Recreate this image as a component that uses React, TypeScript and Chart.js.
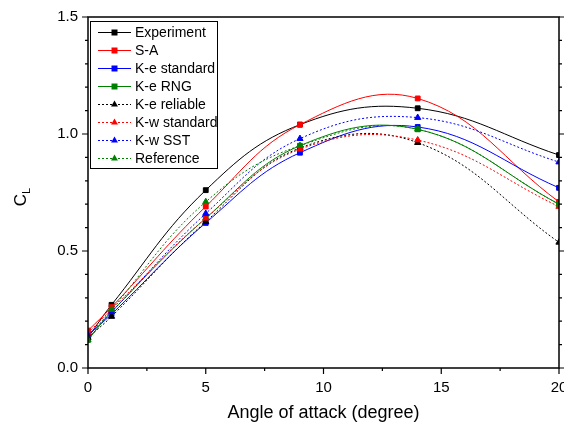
import React, { useEffect, useRef } from 'react';
import { Chart, registerables } from 'chart.js';

Chart.register(...registerables);

// ---------------- data ----------------
const angles = [0, 1, 5, 9, 14, 20];

const experiment = [0.13, 0.27, 0.76, 1.04, 1.11, 0.91];
const spalartAllmaras = [0.16, 0.26, 0.69, 1.04, 1.152, 0.71];
const keStandard = [0.14, 0.23, 0.62, 0.92, 1.03, 0.77];
const keRNG = [0.12, 0.24, 0.64, 0.95, 1.02, 0.70];
const keReliable = [0.13, 0.22, 0.625, 0.94, 0.963, 0.537];
const kwStandard = [0.15, 0.25, 0.64, 0.935, 0.974, 0.69];
const kwSST = [0.14, 0.24, 0.66, 0.98, 1.07, 0.88];
const reference = [0.12, 0.25, 0.71, 0.95, 1.02, 0.70];

const seriesLabels = [
  'Experiment',
  'S-A',
  'K-e standard',
  'K-e RNG',
  'K-e reliable',
  'K-w standard',
  'K-w SST',
  'Reference',
];
const seriesValues = [
  experiment,
  spalartAllmaras,
  keStandard,
  keRNG,
  keReliable,
  kwStandard,
  kwSST,
  reference,
];
const seriesColors = ['#000000', '#ff0000', '#0000ff', '#008000', '#000000', '#ff0000', '#0000ff', '#008000'];
const seriesDotted = [false, false, false, false, true, true, true, true];

const xMajorTicks = [0, 5, 10, 15, 20];
const xTickLabels = ['0', '5', '10', '15', '20'];
const xMinorTicks = [2.5, 7.5, 12.5, 17.5];
const yMajorTicks = [0, 0.5, 1.0, 1.5];
const yTickLabels = ['0.0', '0.5', '1.0', '1.5'];
const yMinorTicks = [0.1, 0.2, 0.3, 0.4, 0.6, 0.7, 0.8, 0.9, 1.1, 1.2, 1.3, 1.4];

const xTitle = 'Angle of attack (degree)';
const yTitleMain = 'C';
const yTitleSub = 'L';

const FONT = '"Liberation Sans", Arial, Helvetica, sans-serif';

function drawMarker(ctx: CanvasRenderingContext2D, x: number, y: number, tri: boolean, color: string) {
  ctx.save();
  ctx.fillStyle = color;
  ctx.setLineDash([]);
  ctx.beginPath();
  if (tri) {
    const r = 4;
    ctx.moveTo(x, y - r);
    ctx.lineTo(x + r * 0.866, y + r * 0.5);
    ctx.lineTo(x - r * 0.866, y + r * 0.5);
    ctx.closePath();
  } else {
    ctx.rect(x - 3, y - 3, 6, 6);
  }
  ctx.fill();
  ctx.restore();
}

const decorPlugin = {
  id: 'decor',
  afterDraw(chart: any) {
    const { ctx, chartArea: a, scales } = chart;
    const xs = scales.x;
    const ys = scales.y;
    ctx.save();
    // frame
    ctx.strokeStyle = '#000';
    ctx.lineWidth = 1.5;
    ctx.setLineDash([]);
    ctx.strokeRect(a.left, a.top, a.right - a.left, a.bottom - a.top);

    // ticks
    ctx.lineWidth = 1.2;
    ctx.beginPath();
    xMajorTicks.forEach((v) => {
      const px = xs.getPixelForValue(v);
      ctx.moveTo(px, a.bottom);
      ctx.lineTo(px, a.bottom + 6);
    });
    xMinorTicks.forEach((v) => {
      const px = xs.getPixelForValue(v);
      ctx.moveTo(px, a.bottom);
      ctx.lineTo(px, a.bottom + 3);
    });
    yMajorTicks.forEach((v) => {
      const py = ys.getPixelForValue(v);
      ctx.moveTo(a.left, py);
      ctx.lineTo(a.left - 6, py);
      ctx.moveTo(a.right, py);
      ctx.lineTo(a.right + 6, py);
    });
    yMinorTicks.forEach((v) => {
      const py = ys.getPixelForValue(v);
      ctx.moveTo(a.left, py);
      ctx.lineTo(a.left - 3, py);
      ctx.moveTo(a.right, py);
      ctx.lineTo(a.right + 3, py);
    });
    ctx.stroke();

    // tick labels
    ctx.fillStyle = '#000';
    ctx.font = `15px ${FONT}`;
    ctx.textAlign = 'center';
    ctx.textBaseline = 'middle';
    xMajorTicks.forEach((v, i) => {
      ctx.fillText(xTickLabels[i], xs.getPixelForValue(v), a.bottom + 20);
    });
    ctx.textAlign = 'right';
    yMajorTicks.forEach((v, i) => {
      ctx.fillText(yTickLabels[i], a.left - 10, ys.getPixelForValue(v));
    });

    // axis titles
    ctx.font = `18px ${FONT}`;
    ctx.textAlign = 'center';
    ctx.fillText(xTitle, (a.left + a.right) / 2, 413);

    ctx.save();
    ctx.translate(26, 197);
    ctx.rotate(-Math.PI / 2);
    ctx.font = `17px ${FONT}`;
    ctx.textAlign = 'left';
    ctx.textBaseline = 'alphabetic';
    const cw = ctx.measureText(yTitleMain).width;
    const subFont = `11px ${FONT}`;
    ctx.font = subFont;
    const lw = ctx.measureText(yTitleSub).width;
    const start = -(cw + lw) / 2;
    ctx.font = `17px ${FONT}`;
    ctx.fillText(yTitleMain, start, 0);
    ctx.font = subFont;
    ctx.fillText(yTitleSub, start + cw, 4);
    ctx.restore();

    // legend
    const bx = 90, by = 21, bw = 127, bh = 147;
    ctx.fillStyle = '#fff';
    ctx.fillRect(bx, by, bw, bh);
    ctx.strokeStyle = '#000';
    ctx.lineWidth = 1;
    ctx.strokeRect(bx + 0.5, by + 0.5, bw, bh);
    ctx.font = `14px ${FONT}`;
    ctx.textAlign = 'left';
    ctx.textBaseline = 'middle';
    seriesLabels.forEach((label, i) => {
      const ry = 32.5 + i * 18;
      const col = seriesColors[i];
      ctx.strokeStyle = col;
      ctx.lineWidth = 1;
      ctx.setLineDash(seriesDotted[i] ? [2, 2] : []);
      ctx.beginPath();
      ctx.moveTo(98, ry);
      ctx.lineTo(131, ry);
      ctx.stroke();
      ctx.setLineDash([]);
      drawMarker(ctx, 114.5, ry, seriesDotted[i], col);
      ctx.fillStyle = '#000';
      ctx.fillText(label, 135, ry + 1);
    });
    ctx.restore();
  },
};

export default function App() {
  const canvasRef = useRef<HTMLCanvasElement | null>(null);

  useEffect(() => {
    if (!canvasRef.current) return;
    const datasets = seriesLabels.map((label, i) => ({
      label,
      data: angles.map((x, j) => ({ x, y: seriesValues[i][j] })),
      borderColor: seriesColors[i],
      backgroundColor: seriesColors[i],
      pointBackgroundColor: seriesColors[i],
      pointBorderColor: seriesColors[i],
      pointBorderWidth: 1,
      borderWidth: 1,
      borderDash: seriesDotted[i] ? [2, 2] : [],
      pointStyle: seriesDotted[i] ? 'triangle' : 'rect',
      pointRadius: seriesDotted[i] ? 3.6 : 3.4,
      tension: 0.4,
      fill: false,
      order: seriesLabels.length - i,
    }));
    const chart = new Chart(canvasRef.current, {
      type: 'line',
      data: { datasets },
      options: {
        animation: false,
        responsive: false,
        devicePixelRatio: 1,
        layout: { padding: { left: 88, top: 17, right: 4, bottom: 62 } },
        plugins: { legend: { display: false }, tooltip: { enabled: false } },
        events: [],
        scales: {
          x: { type: 'linear', min: 0, max: 20, display: false },
          y: { type: 'linear', min: 0, max: 1.5, display: false },
        },
      },
      plugins: [decorPlugin],
    } as any);
    return () => chart.destroy();
  }, []);

  return (
    <div style={{ position: 'fixed', left: 0, top: 0, width: 564, height: 430, background: '#fff' }}>
      <canvas ref={canvasRef} width={564} height={430} style={{ display: 'block', width: 564, height: 430 }} />
    </div>
  );
}
